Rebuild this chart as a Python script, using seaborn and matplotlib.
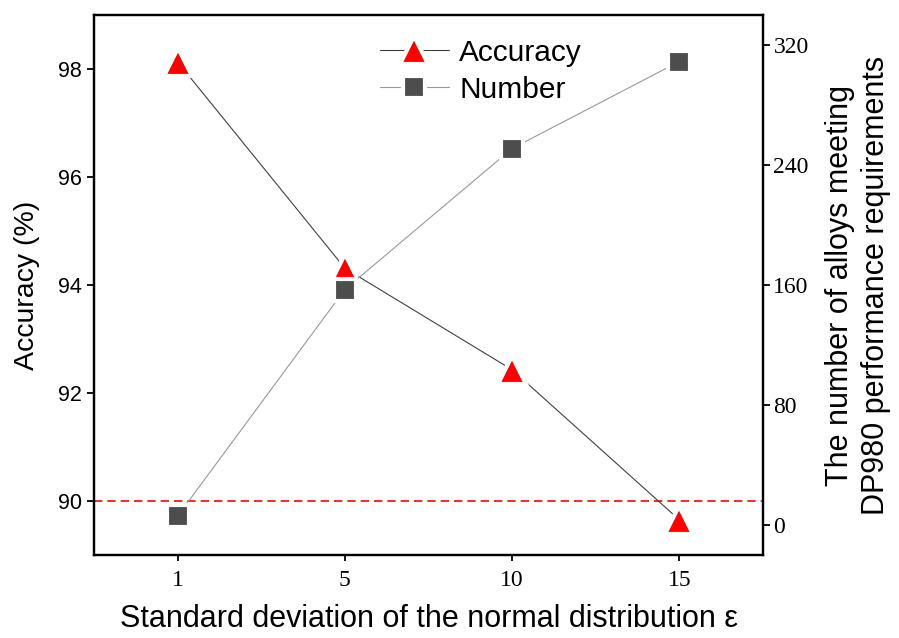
import numpy as np
import pandas as pd
import matplotlib
matplotlib.use("Agg")
import matplotlib.pyplot as plt
import seaborn as sns

# data
eps_labels = ["1", "5", "10", "15"]
accuracy = [98.13, 94.31, 92.43, 89.65]
number = [6, 157, 251, 309]

sns.set_theme(style="white")
plt.rcParams['font.family'] = ['Liberation Sans', 'DejaVu Sans']
plt.rcParams.update({"text.color": "black", "axes.labelcolor": "black",
                     "xtick.color": "black", "ytick.color": "black"})

df = pd.DataFrame({"pos": np.arange(len(eps_labels)), "acc": accuracy, "num": number})

fig = plt.figure(figsize=(8.99, 6.38), dpi=100)
ax = fig.add_axes([94/899, 1 - 555/638, (763-94)/899, (555-15)/638])
ax2 = ax.twinx()

# accuracy: dark line, red triangles (white edge leaves a gap in the line)
sns.lineplot(data=df, x="pos", y="acc", ax=ax, color="#404040", linewidth=0.8,
             marker="^", markersize=19.5, markerfacecolor="#ff0000",
             markeredgecolor="white", markeredgewidth=3, label="Accuracy",
             legend=False, zorder=3)
# number: light line, dark squares
sns.lineplot(data=df, x="pos", y="num", ax=ax2, color="#999999", linewidth=0.8,
             marker="s", markersize=15.5, markerfacecolor="#4d4d4d",
             markeredgecolor="white", markeredgewidth=3, label="Number",
             legend=False, zorder=3)

ax.axhline(90, color="#ff0000", linestyle=(0, (5, 3)), linewidth=1.2, zorder=1)

ax.set_xlim(-0.5, 3.5)
ax.set_ylim(89, 99)
ax2.set_ylim(-20, 340)

ax.set_xticks(df["pos"])
ax.set_xticklabels(eps_labels, family=["Liberation Serif", "DejaVu Serif"], fontsize=17)
ax.set_yticks([90, 92, 94, 96, 98])
ax.tick_params(axis="y", labelsize=15.5, direction="out", length=5, width=1.3, left=True, pad=3.5)
ax.tick_params(axis="x", direction="out", length=4, width=1.3, bottom=True, pad=7)
ax2.set_yticks([0, 80, 160, 240, 320])
ax2.tick_params(axis="y", direction="out", length=5, width=1.3, right=True, pad=2.5)
for t in ax2.get_yticklabels():
    t.set_family(["Liberation Serif", "DejaVu Serif"])
    t.set_fontsize(17)

ax.set_xlabel("Standard deviation of the normal distribution ε", fontsize=22, labelpad=9)
ax.set_ylabel("Accuracy (%)", fontsize=20.5)
ax.yaxis.set_label_coords(-0.081, 0.5)
ax2.set_ylabel("The number of alloys meeting\nDP980 performance requirements",
               fontsize=22, labelpad=12, linespacing=1.22)

for a in (ax, ax2):
    for s in a.spines.values():
        s.set_linewidth(1.6)
        s.set_color("black")

h1, l1 = ax.get_legend_handles_labels()
h2, l2 = ax2.get_legend_handles_labels()
ax.legend(h1 + h2, l1 + l2, loc="upper left", bbox_to_anchor=(0.4275, 0.956),
          frameon=False, fontsize=21.5, handlelength=2.3, handletextpad=0.35,
          labelspacing=0.3, numpoints=1, borderpad=0, borderaxespad=0)

fig.savefig("out.png", dpi=100)
